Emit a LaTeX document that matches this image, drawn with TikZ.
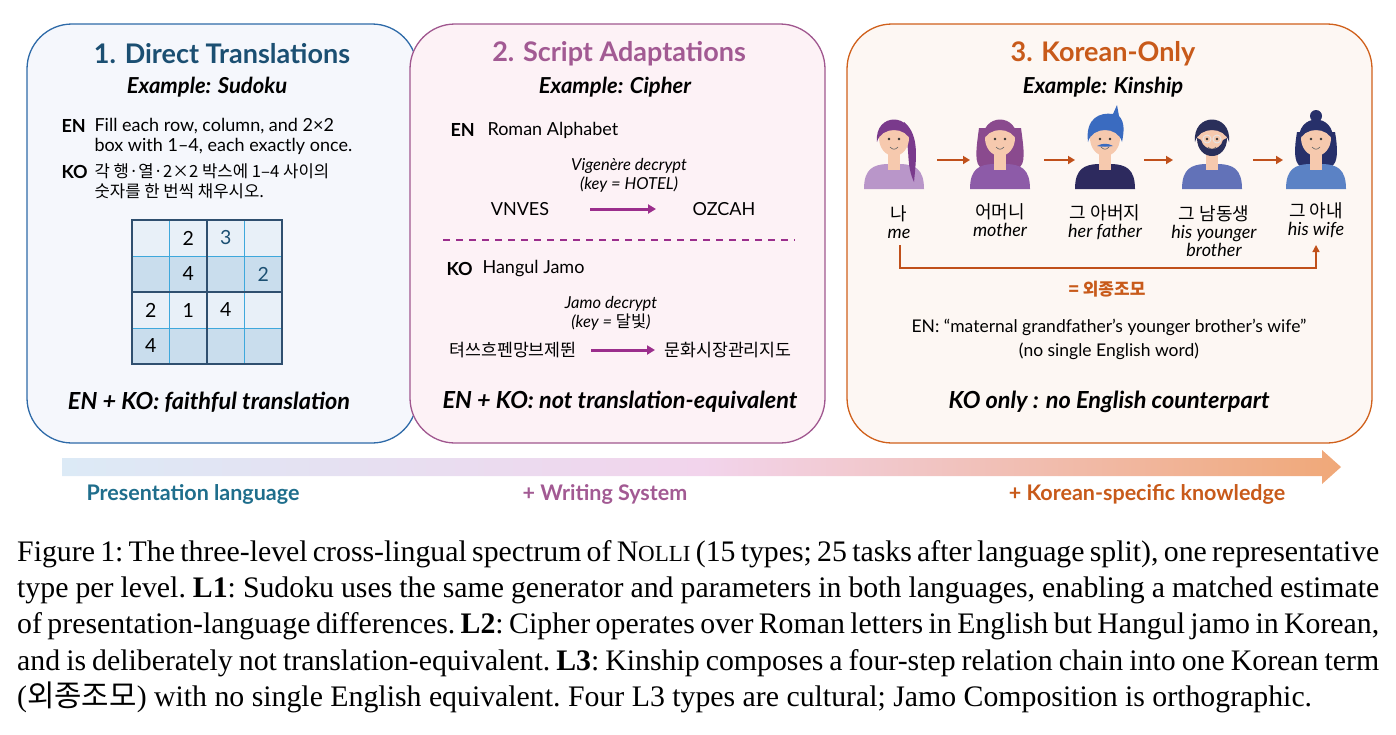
\documentclass[tikz,border=0pt]{standalone}
\usepackage{fontspec}
\setmainfont{Liberation Serif}
\newfontfamily\lat{Lato}
\newfontfamily\kr{Noto Sans CJK KR}
\usetikzlibrary{arrows.meta}
\definecolor{bA}{HTML}{2E6AA8}\definecolor{bAf}{HTML}{F5F7FC}\definecolor{tA}{HTML}{1B4F72}
\definecolor{bB}{HTML}{A0578F}\definecolor{bBf}{HTML}{FDF2F6}\definecolor{tB}{HTML}{A25A93}
\definecolor{bC}{HTML}{D0601B}\definecolor{bCf}{HTML}{FDF7F3}\definecolor{tC}{HTML}{C85A1A}
\definecolor{arrB}{HTML}{9B2E8C}\definecolor{arrC}{HTML}{C0501A}
\definecolor{cl}{HTML}{E8F0F8}\definecolor{cd}{HTML}{C9DDED}\definecolor{gl}{HTML}{3EA8DC}\definecolor{gd}{HTML}{2F4F6F}
\definecolor{skin}{HTML}{F6C9AE}
\definecolor{hMe}{HTML}{7A3A8C}\definecolor{sMe}{HTML}{B996C9}
\definecolor{hMo}{HTML}{8A4A8E}\definecolor{sMo}{HTML}{8D5BA8}
\definecolor{hFa}{HTML}{3A6BC0}\definecolor{sFa}{HTML}{2D2A5E}
\definecolor{hBr}{HTML}{2A2F5A}\definecolor{sBr}{HTML}{6272B8}
\definecolor{hWi}{HTML}{27306A}\definecolor{sWi}{HTML}{5B82C5}
\definecolor{lvA}{HTML}{1F6E8C}
\definecolor{grL}{HTML}{DCEAF6}\definecolor{grM}{HTML}{F2D4EC}\definecolor{grR}{HTML}{F0A878}
\begin{document}
\begin{tikzpicture}[x=1pt,y=-1pt,
  box/.style={rounded corners=45pt,line width=1.3pt},
  ttl/.style={font=\lat\bfseries\fontsize{27}{30}\selectfont},
  ex/.style={font=\lat\bfseries\itshape\fontsize{22}{26}\selectfont},
  bd/.style={font=\lat\fontsize{18}{20}\selectfont},
  bdb/.style={font=\lat\bfseries\fontsize{18}{20}\selectfont},
  sm/.style={font=\lat\itshape\fontsize{16.5}{19}\selectfont},
  con/.style={font=\lat\bfseries\itshape\fontsize{23.5}{26}\selectfont},
  nm/.style={font=\lat\itshape\fontsize{18}{18}\selectfont,align=center},
  lvl/.style={font=\lat\bfseries\fontsize{21.5}{24}\selectfont},
  parr/.style={-{Triangle[length=8pt,width=9pt]},line width=3pt,arrB},
  karr/.style={-{Triangle[length=7pt,width=8pt]},line width=2.2pt,arrC},
  cell/.style={font=\lat\fontsize{19.5}{20}\selectfont}]
\useasboundingbox (0,0) rectangle (1396,734);
% boxes
\draw[box,draw=bA,fill=bAf] (27,24) rectangle (417,443);
\draw[box,draw=bB,fill=bBf] (410,24) rectangle (825,443);
\draw[box,draw=bC,fill=bCf] (847,24) rectangle (1372,443);
% box 1
\node[ttl,text=tA] (t1) at (222,54) {1. Direct Translations};
\node[ex] (e1) at (207,87) {Example: Sudoku};
\node[bdb,anchor=west] (en1) at (58,126) {EN};
\node[bd,anchor=north west,align=left] (ent1) at (91,115) {Fill each row, column, and 2×2\\box with 1–4, each exactly once.};
\node[bdb,anchor=west] (ko1) at (58,172) {KO};
\node[anchor=north west,align=left,font=\kr\fontsize{16.7}{20}\selectfont] (kot1) at (91,160) {각 행·열·2×2 박스에 1–4 사이의\\숫자를 한 번씩 채우시오.};
\foreach \r/\c in {0/cl,1/cd,2/cl,3/cd}
  \fill[\c] (132,220+36*\r) rectangle (282,256+36*\r);
\foreach \i in {1,3}{
  \draw[gl,line width=1pt] (132+37.5*\i,220) -- (132+37.5*\i,364);
  \draw[gl,line width=1pt] (132,220+36*\i) -- (282,220+36*\i);}
\draw[gd,line width=1.2pt] (207,220) -- (207,364) (132,292) -- (282,292);
\draw[gd,line width=1.4pt] (132,220) rectangle (282,364);
\node[cell] (g12) at (188.25,238) {2};
\node[cell,text=tA] (g13) at (225.75,238) {3};
\node[cell] (g22) at (188.25,274) {4};
\node[cell,text=tA] (g24) at (263.25,274) {2};
\node[cell] (g31) at (150.75,310) {2};
\node[cell] (g32) at (188.25,310) {1};
\node[cell] (g33) at (225.75,310) {4};
\node[cell] (g41) at (150.75,346) {4};
\node[con] (c1) at (209,402) {EN + KO: faithful translation};
% box 2
\node[ttl,text=tB] (t2) at (619,54) {2. Script Adaptations};
\node[ex] (e2) at (615,87) {Example: Cipher};
\node[bdb,anchor=west] (en2) at (447,130) {EN};
\node[bd,anchor=west] (ent2) at (484,130) {Roman Alphabet};
\node[sm,align=center] (k2a) at (629,175) {Vigenère decrypt\\(key = HOTEL)};
\node[bd] (v1) at (520,209) {VNVES};
\node[bd] (v2) at (724,209) {OZCAH};
\coordinate (a1) at (590,209); \coordinate (a2) at (656,209);
\draw[parr] (a1) -- (a2);
\coordinate (d1) at (443,240); \coordinate (d2) at (795,240);
\draw[arrB,line width=1.5pt,dash pattern=on 7pt off 6pt] (d1) -- (d2);
\node[bdb,anchor=west] (ko2) at (443,269) {KO};
\node[bd,anchor=west] (kot2) at (479,269) {Hangul Jamo};
\node[sm,align=center] (k2b) at (611,313) {Jamo decrypt\\(key = {\kr 달빛})};
\node[font=\kr\fontsize{17.3}{20}\selectfont] (h1) at (513,350) {텨쓰흐펜망브제뛴};
\node[font=\kr\fontsize{17.3}{20}\selectfont] (h2) at (728,350) {문화시장관리지도};
\coordinate (b1) at (591,350); \coordinate (b2) at (655,350);
\draw[parr] (b1) -- (b2);
\node[con] (c2) at (620,402) {EN + KO: not translation-equivalent};
% box 3
\node[ttl,text=tC] (t3) at (1103,54) {3. Korean-Only};
\node[ex] (e3) at (1103,87) {Example: Kinship};
% avatars
\newcommand\headface[1]{%
  \fill[skin] (#1-6,150) rectangle (#1+6,170);
  \fill[skin] (#1,138) ellipse (15 and 18);
  \fill[black!80] (#1-5,139) circle (1.4) (#1+5,139) circle (1.4);
  \draw[black!60,line width=0.6pt] (#1-4,147) .. controls (#1-1,150) and (#1+1,150) .. (#1+4,147);}
\newcommand\shoulders[2]{%
  \fill[#2] (#1-30,189) .. controls (#1-30,168) and (#1-20,165) .. (#1-8,164) -- (#1+8,164) .. controls (#1+20,165) and (#1+30,168) .. (#1+30,189) -- cycle;}
\newcommand\haircap[2]{%
  \fill[#2] (#1-17,142) .. controls (#1-20,112) and (#1+20,112) .. (#1+17,142) .. controls (#1+13,126) and (#1-13,126) .. cycle;}
% me
\shoulders{894}{sMe}
\fill[hMe] (894+10,122) .. controls (894+26,135) and (894+22,160) .. (894+20,182) .. controls (894+12,165) and (894+16,150) .. (894+12,140) -- cycle;
\headface{894}\haircap{894}{hMe}
% mother
\fill[hMo] (1000-21,128) .. controls (1000-24,150) and (1000-26,165) .. (1000-18,168) -- (1000+18,168) .. controls (1000+26,165) and (1000+24,150) .. (1000+21,128) -- cycle;
\shoulders{1000}{sMo}
\headface{1000}\haircap{1000}{hMo}
% father
\shoulders{1105}{sFa}
\headface{1105}
\fill[hFa] (1105-17,142) .. controls (1105-20,118) and (1105-5,112) .. (1105+8,114) -- (1105+12,105) -- (1105+14,116) .. controls (1105+20,122) and (1105+19,132) .. (1105+17,142) .. controls (1105+13,126) and (1105-13,126) .. cycle;
\fill[hFa] (1105-8,146) .. controls (1105-3,143) and (1105+3,143) .. (1105+8,146) .. controls (1105+3,147) and (1105-3,147) .. cycle;
% brother
\shoulders{1212}{sBr}
\headface{1212}
\fill[hBr] (1212-15,138) .. controls (1212-15,162) and (1212+15,162) .. (1212+15,138) -- (1212+11,140) .. controls (1212+8,152) and (1212-8,152) .. (1212-11,140) -- cycle;
\haircap{1212}{hBr}
\draw[white!80!gray,line width=0.9pt] (1212-5,139) circle (4) (1212+5,139) circle (4);
% wife
\fill[hWi] (1316,116) circle (6);
\fill[hWi] (1316-19,132) .. controls (1316-22,150) and (1316-22,162) .. (1316-16,166) -- (1316+16,166) .. controls (1316+22,162) and (1316+22,150) .. (1316+19,132) -- cycle;
\shoulders{1316}{sWi}
\headface{1316}\haircap{1316}{hWi}
% named anchors for avatars
\coordinate (p1) at (894,160); \coordinate (p2) at (1000,160); \coordinate (p3) at (1105,160);
\coordinate (p4) at (1212,160); \coordinate (p5) at (1316,160);
\draw[karr] ([xshift=43]p1) -- ([xshift=76]p1);
\draw[karr] ([xshift=44]p2) -- ([xshift=75]p2);
\draw[karr] ([xshift=39]p3) -- ([xshift=68]p3);
\draw[karr] ([xshift=41]p4) -- ([xshift=71]p4);
\node[nm] (n1) at (899,222) {{\kr 나}\\me};
\node[nm] (n2) at (1000,220) {{\kr 어머니}\\mother};
\node[nm] (n3) at (1105,222) {{\kr 그 아버지}\\her father};
\node[nm] (n4) at (1214,231) {{\kr 그 남동생}\\his younger\\brother};
\node[nm] (n5) at (1316,220) {{\kr 그 아내}\\his wife};
\coordinate (q1) at (900,245); \coordinate (q5) at (1316,245);
\draw[arrC,line width=1.4pt,-{Triangle[length=7pt,width=7pt]}] (q1) |- (1316,268) -- (q5);
\node[font=\kr\bfseries\fontsize{17}{20}\selectfont,text=tC] (eq) at (1107,289) {= 외종조모};
\node[align=center,font=\lat\fontsize{17.5}{24}\selectfont] (en3) at (1109,339) {EN: “maternal grandfather’s younger brother’s wife”\\(no single English word)};
\node[con] (c3) at (1109,402) {KO only : no English counterpart};
% gradient arrow
\shade[left color=grL,right color=grR,middle color=grM]
  (62,458) -- (1322,458) -- (1322,450) -- (1341,467) -- (1322,484) -- (1322,476) -- (62,476) -- cycle;
\node[lvl,text=lvA] (l1) at (193,494) {Presentation language};
\node[lvl,text=tB] (l2) at (605,494) {+ Writing System};
\node[lvl,text=tC] (l3) at (1147,494) {+ Korean-specific knowledge};
% caption
\node[anchor=north west,inner sep=0pt,text width=1362pt,align=justify,font=\frenchspacing\fontsize{29.8}{36.3}\selectfont] (cap) at (17,540) {Figure 1: The three-level cross-lingual spectrum of N{\fontsize{23}{20}\selectfont OLLI} (15 types; 25 tasks after language split), one representative\linebreak type per level. \textbf{L1}: Sudoku uses the same generator and parameters in both languages, enabling a matched estimate\linebreak of presentation-language differences. \textbf{L2}: Cipher operates over Roman letters in English but Hangul jamo in Korean,\linebreak and is deliberately not translation-equivalent. \textbf{L3}: Kinship composes a four-step relation chain into one Korean term\linebreak ({\kr 외종조모}) with no single English equivalent. Four L3 types are cultural; Jamo Composition is orthographic.};
\end{tikzpicture}
\end{document}
